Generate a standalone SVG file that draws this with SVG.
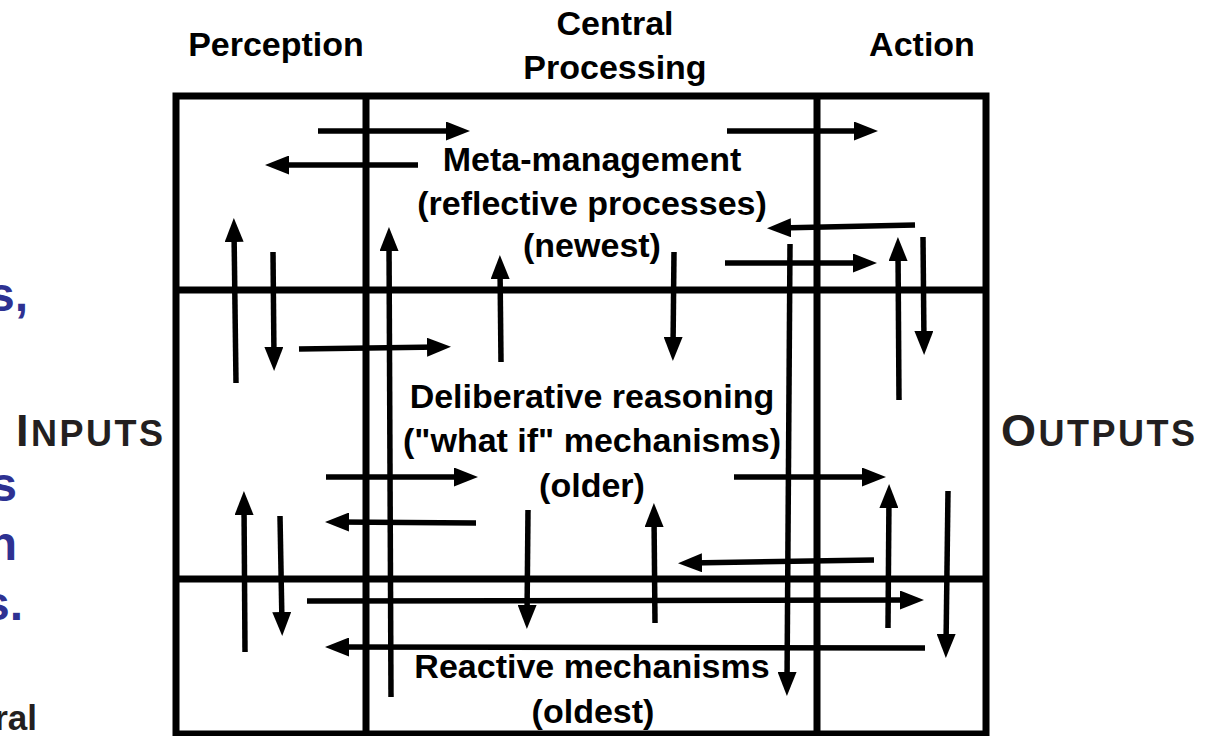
<svg xmlns="http://www.w3.org/2000/svg" width="1207" height="736" viewBox="0 0 1207 736">
  <style>
    .lbl { font-family: "Liberation Sans", Arial, sans-serif; font-weight: bold; font-size: 34px; fill: #000; text-anchor: middle; }
    .io { font-family: "Liberation Sans", Arial, sans-serif; font-weight: bold; fill: #231f20; letter-spacing: 2.5px; }
    .blue { font-family: "Liberation Sans", Arial, sans-serif; font-weight: bold; font-size: 48px; fill: #2e3192; text-anchor: end; }
    .grid { fill: none; stroke: #000; stroke-width: 7; }
    .arr { fill: none; stroke: #000; stroke-width: 5.5; marker-end: url(#ah); }
  </style>
  <defs>
    <marker id="ah" viewBox="0 0 24 19" refX="12" refY="9.5" markerWidth="24" markerHeight="19" markerUnits="userSpaceOnUse" orient="auto">
      <path d="M0,0 L24,9.5 L0,19 z" fill="#000"/>
    </marker>
  </defs>
  <rect width="1207" height="736" fill="#fff"/>

  <!-- partial side texts (cut off at the left edge, as in the reference) -->
  <g id="side-text">
    <text class="blue" x="28" y="311">s,</text>
    <text class="blue" x="17" y="501">s</text>
    <text class="blue" x="17" y="560">n</text>
    <text class="blue" x="23" y="620">s.</text>
    <text x="37" y="730" style="font-family:'Liberation Sans',Arial,sans-serif;font-weight:bold;font-size:35px;fill:#231f20;text-anchor:end">ral</text>
  </g>

  <!-- grid frame -->
  <g id="grid">
    <rect class="grid" x="176" y="96" width="810" height="638"/>
    <line class="grid" x1="366" y1="96" x2="366" y2="736"/>
    <line class="grid" x1="817" y1="96" x2="817" y2="736"/>
    <line class="grid" x1="176" y1="290" x2="986" y2="290"/>
    <line class="grid" x1="176" y1="579" x2="986" y2="579"/>
  </g>

  <!-- column headers -->
  <g id="col-perception"><text class="lbl" x="276" y="56">Perception</text></g>
  <g id="col-central"><text class="lbl" x="615" y="35">Central</text><text class="lbl" x="615" y="79">Processing</text></g>
  <g id="col-action"><text class="lbl" x="922" y="56">Action</text></g>

  <!-- io labels -->
  <g id="inputs"><text class="io" x="16" y="446"><tspan font-size="45">I</tspan><tspan font-size="36">NPUTS</tspan></text></g>
  <g id="outputs"><text class="io" x="1001" y="446"><tspan font-size="45">O</tspan><tspan font-size="36">UTPUTS</tspan></text></g>

  <!-- layer nodes -->
  <g id="meta-management">
    <text class="lbl" x="592" y="171">Meta-management</text>
    <text class="lbl" x="592" y="215">(reflective processes)</text>
    <text class="lbl" x="592" y="257">(newest)</text>
  </g>
  <g id="deliberative">
    <text class="lbl" x="592" y="408">Deliberative reasoning</text>
    <text class="lbl" x="592" y="452">("what if" mechanisms)</text>
    <text class="lbl" x="592" y="497">(older)</text>
  </g>
  <g id="reactive">
    <text class="lbl" x="592" y="678">Reactive mechanisms</text>
    <text class="lbl" x="593" y="723">(oldest)</text>
  </g>

  <!-- connectors -->
  <g id="connectors">
    <!-- right arrows -->
    <line class="arr" x1="318" y1="131" x2="458" y2="131"/>
    <line class="arr" x1="727" y1="131" x2="866" y2="131"/>
    <line class="arr" x1="725" y1="263" x2="865" y2="263"/>
    <line class="arr" x1="299" y1="349" x2="439" y2="347"/>
    <line class="arr" x1="326" y1="477" x2="466" y2="477"/>
    <line class="arr" x1="734" y1="477" x2="874" y2="477"/>
    <line class="arr" x1="307" y1="601" x2="912" y2="600"/>
    <!-- left arrows -->
    <line class="arr" x1="418" y1="165" x2="277" y2="165"/>
    <line class="arr" x1="915" y1="225" x2="779" y2="228"/>
    <line class="arr" x1="476" y1="523" x2="337" y2="522"/>
    <line class="arr" x1="874" y1="560" x2="690" y2="563"/>
    <line class="arr" x1="925" y1="648" x2="337" y2="647"/>
    <!-- up arrows -->
    <line class="arr" x1="236" y1="383" x2="234" y2="230"/>
    <line class="arr" x1="391" y1="697" x2="389" y2="239"/>
    <line class="arr" x1="501" y1="362" x2="500" y2="267"/>
    <line class="arr" x1="899" y1="400" x2="898" y2="249"/>
    <line class="arr" x1="245" y1="652" x2="244" y2="503"/>
    <line class="arr" x1="888" y1="628" x2="889" y2="496"/>
    <line class="arr" x1="655" y1="623" x2="654" y2="515"/>
    <!-- down arrows -->
    <line class="arr" x1="273" y1="252" x2="274" y2="359"/>
    <line class="arr" x1="674" y1="252" x2="673" y2="349"/>
    <line class="arr" x1="790" y1="244" x2="787" y2="684"/>
    <line class="arr" x1="923" y1="237" x2="924" y2="343"/>
    <line class="arr" x1="280" y1="516" x2="282" y2="624"/>
    <line class="arr" x1="948" y1="491" x2="946" y2="646"/>
    <line class="arr" x1="528" y1="510" x2="527" y2="617"/>
  </g>
</svg>
